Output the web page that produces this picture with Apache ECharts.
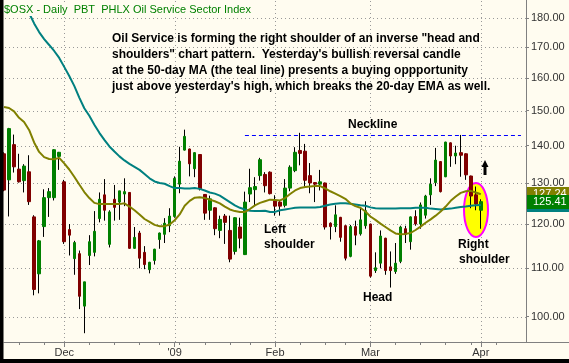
<!DOCTYPE html>
<html><head><meta charset="utf-8">
<script src="https://cdn.jsdelivr.net/npm/echarts@6/dist/echarts.min.js"></script>
<style>html,body{margin:0;padding:0;background:#FFFCF0;}#c{width:569px;height:363px;}</style>
</head><body><div id="c"></div>
<script>
// ---- data ----
const dates = ['11-12','11-13','11-14','11-17','11-18','11-19','11-20','11-21','11-24','11-25','11-26','11-28',
'12-01','12-02','12-03','12-04','12-05','12-08','12-09','12-10','12-11','12-12','12-15','12-16','12-17','12-18','12-19','12-22','12-23','12-24','12-26','12-29','12-30','12-31',
'01-02','01-05','01-06','01-07','01-08','01-09','01-12','01-13','01-14','01-15','01-16','01-20','01-21','01-22','01-23','01-26','01-27','01-28','01-29','01-30',
'02-02','02-03','02-04','02-05','02-06','02-09','02-10','02-11','02-12','02-13','02-17','02-18','02-19','02-20','02-23','02-24','02-25','02-26','02-27',
'03-02','03-03','03-04','03-05','03-06','03-09','03-10','03-11','03-12','03-13','03-16','03-17','03-18','03-19','03-20','03-23','03-24','03-25','03-26','03-27','03-30','03-31',
'04-01','04-02','04-03','04-06','04-07','04-08','04-09','04-13','04-14','04-15'];

const open  = [137.8,130.9,140.3,133.7,130.7,133.0,121.7,108.8,119.4,126.4,126.4,137.1,130.4,118.7,112.1,113.2,102.1,112.8,113.5,121.3,
127.1,115.3,126.0,125.3,127.3,127.7,114.4,117.9,113.5,109.7,111.7,116.4,117.6,119.6,121.8,129.8,138.8,139.1,133.8,137.6,
127.2,123.3,123.9,118.5,121.9,118.5,113.7,119.3,113.0,127.3,128.4,132.0,132.3,132.9,125.6,125.3,124.5,128.8,133.3,138.7,
138.5,132.0,130.2,129.8,130.1,120.2,119.4,121.6,119.6,112.6,119.4,117.7,119.6,120.0,109.5,111.1,116.7,110.3,109.3,111.5,
118.9,115.9,121.8,120.0,122.1,127.1,130.2,135.7,131.7,140.8,137.2,138.1,137.8,131.9,127.1,123.3];
const high  = [138.2,145.0,143.1,137.8,135.0,137.4,122.1,116.3,128.5,128.8,139.0,138.3,130.9,120.0,116.1,113.9,107.1,117.4,123.1,127.7,
131.1,123.3,129.6,128.1,131.3,127.8,119.3,118.4,114.9,111.4,114.3,118.0,121.4,123.8,131.8,139.7,144.5,139.2,138.2,137.7,
127.3,126.9,124.0,122.0,122.4,122.0,121.6,121.5,127.9,133.8,131.6,136.7,132.9,133.1,127.0,125.7,131.1,134.7,139.6,143.6,
140.5,135.3,130.3,133.5,130.2,120.4,124.5,121.7,119.7,119.8,120.8,124.0,125.5,120.1,113.5,118.5,116.8,113.7,115.6,119.6,
119.6,121.8,123.3,125.2,127.1,131.3,139.4,135.8,141.1,140.9,140.0,143.0,137.9,132.0,129.2,126.0];
const low   = [128.0,121.8,132.8,130.2,127.7,124.6,104.3,104.7,117.0,121.7,125.7,133.5,115.4,112.8,108.6,101.5,96.8,110.7,112.6,120.4,
120.8,114.6,120.8,121.0,124.3,114.3,114.3,110.0,109.8,108.9,110.8,114.3,115.6,118.1,121.5,127.5,138.7,131.8,131.6,128.2,
121.0,121.0,117.4,116.7,115.4,111.3,113.0,114.4,112.9,125.3,124.5,130.7,127.7,127.2,122.0,122.0,124.0,128.0,132.9,134.7,
129.2,127.5,125.3,128.2,118.7,116.4,118.1,115.9,111.7,112.4,115.1,117.3,118.9,108.0,109.0,110.0,108.6,105.9,108.8,111.1,
115.6,114.1,119.6,118.9,121.3,124.6,129.3,127.7,131.6,134.3,135.0,131.7,130.9,123.8,123.3,118.9];
const close = [128.3,144.8,134.3,130.4,134.5,125.4,105.5,116.1,126.4,127.9,138.9,138.2,115.9,117.4,115.7,104.1,107.1,115.9,118.3,126.0,
123.3,122.9,124.0,128.1,127.9,114.4,116.9,112.2,110.8,111.3,114.2,117.9,120.2,121.9,131.3,135.8,142.6,135.1,138.1,128.6,
122.6,126.1,118.9,121.1,120.4,112.0,121.5,116.7,125.3,128.9,129.2,136.2,129.4,127.4,124.3,124.3,128.8,134.2,138.2,137.9,
130.8,130.1,129.8,130.4,119.3,119.4,122.2,116.9,112.2,119.4,117.4,121.0,123.2,108.3,110.1,117.2,109.5,109.5,111.1,119.3,
117.6,121.7,120.0,124.6,126.8,129.8,136.1,127.9,141.0,137.2,138.0,137.4,132.2,126.8,124.8,125.41];

const ema20 = [151.1,150.8,149.8,147.9,146.7,144.4,140.9,138.3,136.9,136.4,
136.3,136.7,135.2,133.6,131.7,129.7,127.8,126.3,125.1,124.8,
124.8,124.8,124.8,124.8,125.0,124.2,123.3,122.3,121.2,120.5,
119.8,119.5,119.5,119.9,120.9,122.3,124.4,125.6,126.4,126.5,
126.3,125.9,125.5,125.0,124.2,123.5,123.1,122.9,122.9,123.6,
124.5,125.1,125.5,125.9,125.8,125.7,126.3,127.3,128.2,128.8,
129.1,129.2,129.3,129.3,128.7,128.0,127.4,126.8,126.1,125.0,
124.3,123.9,123.0,121.8,121.0,120.1,119.3,118.5,117.8,117.6,
117.7,117.9,118.6,119.4,120.3,121.1,122.0,123.0,124.2,125.6,
126.7,127.6,128.0,128.1,127.7,127.24];

const ma50 = [null,null,null,null,184.7,181.8,178.1,175.1,172.7,170.7,
168.7,166.4,163.5,160.6,157.5,153.9,150.7,148.5,145.9,143.6,
141.6,139.8,138.4,137.1,136.0,135.1,134.3,133.5,132.4,131.3,
130.5,130.1,129.9,129.3,128.8,128.8,128.7,128.7,128.8,128.6,
128.2,127.7,127.4,126.9,126.1,125.3,124.5,123.9,123.5,123.2,
123.1,123.1,123.2,122.9,122.9,123.3,123.5,123.7,123.9,124.0,
124.0,124.0,124.0,124.1,124.4,124.7,124.9,125.0,125.0,124.9,
124.7,124.5,124.4,124.0,123.8,123.7,123.7,123.7,123.7,123.8,
123.8,123.8,123.9,123.9,123.9,123.7,123.6,123.5,123.6,123.7,
123.9,124.1,124.2,124.4,124.5,124.6];

const priceTicks = [100,110,120,130,140,150,160,170,180];
const monthIdx  = [12,34,54,73,95];
const monthText = ['Dec',"'09",'Feb','Mar','Apr'];
const weekIdx   = [3,8,12,17,22,27,31,35,40,45,49,54,59,64,68,73,78,83,88,93,98];
const neckline  = 143.0;
const necklineFrom = 48, necklineTo = 103;

// ---- chart ----
const FONT = 'Liberation Sans';
const BG = '#FFFCF0';
const GRID = '#999999';
const chart = echarts.init(document.getElementById('c'), null, {renderer: 'canvas'});
const wickData = open.map((o, i) => [o, close[i], low[i], high[i]]);
const bodyData = open.map((o, i) => [o, close[i], Math.min(o, close[i]), Math.max(o, close[i])]);
const isMonth = i => monthIdx.indexOf(i) >= 0;
const isWeek = i => weekIdx.indexOf(i) >= 0;

chart.setOption({
  backgroundColor: BG,
  animation: false,
  title: {
    text: '$OSX - Daily  PBT  PHLX Oil Service Sector Index',
    left: 2, top: 3, padding: [1, 2, 1, 2], backgroundColor: BG,
    textStyle: {fontSize: 11, fontWeight: 'normal', color: '#008000', fontFamily: FONT}
  },
  grid: {left: 4, right: 43, top: 0, bottom: 21},
  xAxis: [{
    type: 'category', data: dates, boundaryGap: false,
    axisLine: {lineStyle: {color: '#808080'}},
    axisTick: {interval: i => isMonth(i), length: 5, lineStyle: {color: '#808080'}},
    axisLabel: {interval: i => isMonth(i), formatter: (v, i) => monthText[monthIdx.indexOf(i)] || '',
      color: '#333', fontSize: 11, fontFamily: FONT, margin: 5},
    splitLine: {show: false}
  }, {
    type: 'category', data: dates, boundaryGap: false, position: 'bottom',
    axisLine: {show: false},
    axisTick: {interval: i => isWeek(i), length: 3, lineStyle: {color: '#808080'}},
    axisLabel: {show: false}, splitLine: {show: false}
  }],
  yAxis: {
    type: 'log', logBase: 10, position: 'right', min: 95.14, max: 186.5,
    axisLine: {show: true, lineStyle: {color: '#808080'}},
    axisTick: {show: true, length: 3, customValues: priceTicks, lineStyle: {color: '#808080'}},
    axisLabel: {customValues: priceTicks, formatter: v => Number(v).toFixed(2),
      color: '#333', fontSize: 11, fontFamily: FONT, margin: 5},
    splitLine: {show: false}
  },
  series: [{
    type: 'candlestick', name: 'wick', data: wickData, barWidth: 0, z: 3,
    itemStyle: {color: '#000', color0: '#000', borderColor: '#000', borderColor0: '#000', borderWidth: 1}
  }, {
    type: 'candlestick', name: 'body', data: bodyData, barWidth: 3, z: 3,
    itemStyle: {color: '#008000', color0: '#800000', borderColor: '#008000', borderColor0: '#800000', borderWidth: 1},
    markLine: {
      silent: true, symbol: 'none', label: {show: false},
      lineStyle: {color: '#0000ff', type: [4, 3], width: 1},
      data: [[{coord: [necklineFrom, neckline]}, {coord: [necklineTo, neckline]}]]
    }
  }, {
    type: 'line', name: 'MA50', data: ma50, showSymbol: false, connectNulls: false, z: 4,
    lineStyle: {color: '#008080', width: 2}
  }, {
    type: 'line', name: 'EMA20', data: ema20, showSymbol: false, z: 4,
    lineStyle: {color: '#808000', width: 2}
  }]
});

// ---- dotted grid (positions from the axes), value boxes, annotations ----
const yPix = v => chart.convertToPixel({yAxisIndex: 0}, v);
const xPix = i => chart.convertToPixel({xAxisIndex: 0}, dates[i]);
const last = a => a[a.length - 1];
const g = [];
priceTicks.forEach(v => {
  const y = Math.round(yPix(v));
  for (let x = 5; x < 526; x += 4) g.push({type: 'rect', z: 1, silent: true, shape: {x: x, y: y, width: 1, height: 1}, style: {fill: GRID}});
});
monthIdx.forEach(i => {
  const x = Math.round(xPix(i));
  for (let y = 1; y < 342; y += 4) g.push({type: 'rect', z: 1, silent: true, shape: {x: x, y: y, width: 1, height: 1}, style: {fill: GRID}});
});
g.push({type: 'ellipse', z: 2, shape: {cx: 476, cy: 210, rx: 12, ry: 27}, style: {fill: '#FFFF00', stroke: '#FF00FF', lineWidth: 2}});
const boxes = [[last(ma50), '#008080', ''], [last(ema20), '#808000', last(ema20).toFixed(2)], [last(close), '#008000', last(close).toFixed(2)]];
boxes.forEach((b, k) => {
  const y = yPix(b[0]);
  g.push({type: 'rect', z: 10 + k, shape: {x: 527, y: Math.round(y) - 7, width: 42, height: 14}, style: {fill: b[1]}});
  g.push({type: 'text', z: 10 + k, style: {text: b[2], x: 533, y: Math.round(y), fill: '#fff', font: '11px ' + FONT, verticalAlign: 'middle'}});
});
const bold = '700 12px ' + FONT;
const notes = [
  ['Oil Service is forming the right shoulder of an inverse "head and', 112, 39],
  ['shoulders" chart pattern.  Yesterday\'s bullish reversal candle', 112, 55],
  ['at the 50-day MA (the teal line) presents a buying oppportunity', 112, 71],
  ['just above yesterday\'s high, which breaks the 20-day EMA as well.', 112, 87],
  ['Neckline', 348, 124.5],
  ['Left', 264, 229.5], ['shoulder', 264, 244.5],
  ['Head', 363, 298],
  ['Right', 458, 245], ['shoulder', 459, 260]
];
notes.forEach(n => g.push({type: 'text', z: 20, style: {text: n[0], x: n[1], y: n[2], fill: '#000', font: bold, verticalAlign: 'middle'}}));
g.push({type: 'polygon', z: 20, shape: {points: [[485, 160], [488.5, 167], [486.5, 167], [486.5, 175], [483.5, 175], [483.5, 167], [481.5, 167]]}, style: {fill: '#000'}});
g.push({type: 'line', z: 20, shape: {x1: 526, y1: 342.5, x2: 569, y2: 342.5}, style: {stroke: '#808080', lineWidth: 1}});
g.push({type: 'rect', z: 50, shape: {x: 0, y: 0, width: 3.5, height: 363}, style: {fill: '#000'}});
g.push({type: 'rect', z: 50, shape: {x: 0, y: 359, width: 569, height: 4}, style: {fill: '#000'}});
chart.setOption({graphic: g});
</script>
</body></html>
